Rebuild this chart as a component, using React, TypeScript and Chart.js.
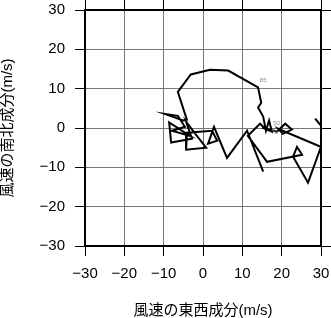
import React, { useEffect, useRef } from "react";
import { Chart, registerables } from "chart.js";

Chart.register(...registerables);

// Hodograph: east-west (u) and north-south (v) wind components, m/s
const uWind = [
  15.3, 11.2, 6.1, 2.8, 1.3, 3.6, 2.3, -4.1, -4.3, 0.8, -1.8, -4.3, -2.8, -8.1, -8.6, -3.3,
  -7.9, -4.6, -6.4, -9.7, -5.1, -4.1, -6.4, -3.1, 1.8, 6.4, 14.0, 14.8, 14.0, 15.3, 16.0, 16.8,
  17.5, 15.0, 18.8, 20.9, 22.6, 20.3, 19.1, 30.0, 30.0, 28.5, 30.0, 30.0, 26.7, 22.9, 23.9,
  25.2, 16.3, 11.4, 14.5, 16.0,
];
const vWind = [
  -11.1, -0.7, -7.6, 0.3, -4.0, -3.2, -0.7, -1.2, -5.5, -5.0, -1.7, 1.6, -2.7, -3.7, 1.4, -2.0,
  -0.7, 0.3, 3.1, 3.6, 1.9, 2.1, 9.2, 13.6, 14.8, 14.6, 10.3, 6.4, 5.2, 2.9, -0.7, 1.9,
  -0.9, 0.1, -0.9, 1.1, -0.4, -1.5, -0.2, -4.8, 0.6, 2.4, 0.6, -4.8, -13.9, -7.3, -4.8,
  -6.8, -8.6, -2.0, 1.1, -0.4,
];

// small height tags along the curve
const tagText = ["85", "50", "70"];
const tagU = [15.3, 18.7, 18.2];
const tagV = [12.1, 1.1, -1.2];

const axisTicks = [-30, -20, -10, 0, 10, 20, 30];
const axisMin = -30;
const axisMax = 30;

const xTitle = "風速の東西成分(m/s)";
const yTitle = "風速の南北成分(m/s)";

const fmt = (v: number) => (v < 0 ? "\u2212" + Math.abs(v) : String(v));

const tickFont = { family: '"Liberation Sans", Arial, sans-serif', size: 15 };
const titleFont = {
  family: '"Liberation Sans", "Noto Sans CJK JP", sans-serif',
  size: 15,
  lineHeight: 1,
};

const fixedSize = (w: number | null, h: number | null) => (s: any) => {
  if (w !== null) s.width = w;
  if (h !== null) s.height = h;
  s.paddingLeft = 0;
  s.paddingRight = 0;
  s.paddingTop = 0;
  s.paddingBottom = 0;
};

export default function App() {
  const ref = useRef<HTMLCanvasElement | null>(null);

  useEffect(() => {
    if (!ref.current) return;
    const tagPlugin = {
      id: "tags",
      afterDatasetsDraw(chart: any) {
        const { ctx, scales } = chart;
        ctx.save();
        ctx.fillStyle = "#8c8c8c";
        ctx.font = '6px "Liberation Sans", Arial, sans-serif';
        ctx.textAlign = "center";
        ctx.textBaseline = "middle";
        tagText.forEach((t, i) => {
          ctx.fillText(t, scales.x.getPixelForValue(tagU[i]), scales.y.getPixelForValue(tagV[i]));
        });
        ctx.restore();
      },
    };

    const gridCommon = {
      color: "#777",
      lineWidth: 1,
      drawTicks: true,
      tickLength: 10,
      tickColor: "#000",
      tickWidth: 1,
    };
    const borderCommon = { display: true, color: "#000", width: 2 };
    const setTicks = (s: any) => {
      s.ticks = axisTicks.map((v) => ({ value: v }));
    };

    const chart = new Chart(ref.current, {
      type: "line",
      data: {
        datasets: [
          {
            data: uWind.map((u, i) => ({ x: u, y: vWind[i] })),
            borderColor: "#000",
            borderWidth: 2,
            pointRadius: 0,
            tension: 0,
            fill: false,
          },
        ],
      },
      options: {
        animation: false,
        responsive: false,
        layout: { padding: 0 },
        plugins: { legend: { display: false }, tooltip: { enabled: false } },
        scales: {
          x: {
            type: "linear",
            position: "bottom",
            min: axisMin,
            max: axisMax,
            afterBuildTicks: setTicks,
            ticks: { callback: (v: any) => fmt(Number(v)), font: tickFont, color: "#000", padding: 9, maxRotation: 0 },
            grid: gridCommon,
            border: borderCommon,
            title: { display: true, text: xTitle, font: titleFont, color: "#000", padding: 0 },
            afterFit: fixedSize(null, 72),
          },
          y: {
            type: "linear",
            position: "left",
            min: axisMin,
            max: axisMax,
            afterBuildTicks: setTicks,
            ticks: { callback: (v: any) => fmt(Number(v)), font: tickFont, color: "#000", padding: 10 },
            grid: gridCommon,
            border: borderCommon,
            title: { display: true, text: yTitle, font: titleFont, color: "#000", padding: 0 },
            afterFit: fixedSize(85, null),
          },
          x2: {
            type: "linear",
            position: "top",
            min: axisMin,
            max: axisMax,
            afterBuildTicks: setTicks,
            ticks: { display: false },
            grid: { ...gridCommon, drawOnChartArea: false },
            border: borderCommon,
            afterFit: fixedSize(null, 10),
          },
          y2: {
            type: "linear",
            position: "right",
            min: axisMin,
            max: axisMax,
            afterBuildTicks: setTicks,
            ticks: { display: false },
            grid: { ...gridCommon, drawOnChartArea: false },
            border: borderCommon,
            afterFit: fixedSize(10, null),
          },
        },
      } as any,
      plugins: [tagPlugin],
    });
    return () => chart.destroy();
  }, []);

  return (
    <div style={{ position: "fixed", left: 0, top: 0, width: 331, height: 318, background: "#fff" }}>
      <canvas ref={ref} width={331} height={318} style={{ display: "block" }} />
    </div>
  );
}
